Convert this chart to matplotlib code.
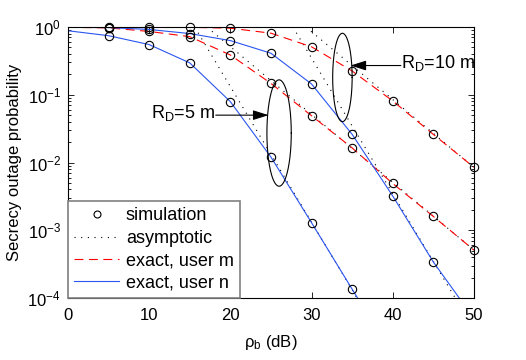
import matplotlib
matplotlib.use('Agg')
import matplotlib.pyplot as plt
import numpy as np

plt.rcParams['font.family'] = ['Liberation Sans', 'DejaVu Sans']
plt.rcParams['mathtext.fontset'] = 'custom'
plt.rcParams['mathtext.rm'] = 'Liberation Sans'
plt.rcParams['mathtext.it'] = 'Liberation Sans:italic'
plt.rcParams['mathtext.default'] = 'regular'

# transmit SNR (dB)
snr_db = [0, 5, 10, 15, 20, 25, 30, 35, 40, 45, 50]

# exact secrecy outage probability
p_m_5 = [0.99, 0.97, 0.86, 0.72, 0.386, 0.147, 0.049, 0.0164, 0.0049, 0.0016, 0.00051]
p_n_5 = [0.88, 0.744, 0.55, 0.295, 0.079, 0.012, 0.00129, 0.000135, 1.4e-5]
p_m_10 = [0.995, 0.995, 0.995, 0.99, 0.96, 0.81, 0.51, 0.224, 0.081, 0.026, 0.0085]
p_n_10 = [0.99, 0.98, 0.92, 0.80, 0.63, 0.41, 0.144, 0.026, 0.0032, 0.00034, 5e-5]

# asymptotic lines (end points)
asym_x_m_5 = [17.1, 50]
asym_m_5 = [1.0, 5.1e-4]
asym_x_n_5 = [15.6, 35.6]
asym_n_5 = [1.0, 1e-4]
asym_x_m_10 = [29.3, 50]
asym_m_10 = [1.0, 0.0085]
asym_x_n_10 = [27.7, 47.7]
asym_n_10 = [1.0, 1e-4]

# ellipses: centre x (dB), centre log10 p, width (dB), height (decades)
ell_5 = (26.0, -1.565, 3.0, 1.57)
ell_10 = (33.8, -0.745, 2.4, 1.305)

red = '#ff0000'
blue = '#2a55f0'
dash = (0, (8, 5))
dots = (0, (1, 5))

fig = plt.figure(figsize=(5.26, 3.6), dpi=100)
ax = fig.add_axes([0.1293, 0.1722, 0.7717, 0.7528])

for xs, ys in [(asym_x_m_5, asym_m_5), (asym_x_n_5, asym_n_5),
               (asym_x_m_10, asym_m_10), (asym_x_n_10, asym_n_10)]:
    ax.plot(xs, ys, color='k', lw=0.8, linestyle=dots)

for p in [p_m_5, p_m_10]:
    ax.plot(snr_db[:len(p)], p, color=red, lw=0.8, linestyle=dash)
for p in [p_n_5, p_n_10]:
    ax.plot(snr_db[:len(p)], p, color=blue, lw=0.8)

for p in [p_m_5, p_n_5, p_m_10, p_n_10]:
    xs = np.array(snr_db[:len(p)])
    ys = np.array(p)
    keep = (xs >= 5) & (ys >= 1e-4)
    ax.plot(xs[keep], ys[keep], 'o', mfc='none', mec='k', ms=6, mew=0.8,
            clip_on=False, zorder=5)

# ellipses drawn in (dB, log10 p) space
t = np.linspace(0, 2 * np.pi, 200)
for cx, cy, w, h in [ell_5, ell_10]:
    ax.plot(cx + w / 2 * np.cos(t), 10 ** (cy + h / 2 * np.sin(t)), color='k', lw=0.8)

arrow = dict(arrowstyle='-|>,head_length=0.95,head_width=0.3', color='k', lw=0.8,
             shrinkA=0, shrinkB=0, mutation_scale=10)
ax.annotate('', xy=(24.7, 0.05), xytext=(18.2, 0.05), arrowprops=arrow)
ax.text(18.1, 0.046, 'R$_D$=5 m', ha='right', va='baseline', fontsize=13)
ax.annotate('', xy=(34.8, 0.27), xytext=(41.0, 0.27), arrowprops=arrow)
ax.text(41.0, 0.246, 'R$_D$=10 m', ha='left', va='baseline', fontsize=13)

ax.set_yscale('log')
ax.set_xlim(0, 50)
ax.set_ylim(1e-4, 1)
ax.set_xticks([0, 10, 20, 30, 40, 50])
ax.tick_params(which='both', direction='in', top=True, right=True, labelsize=12)
ax.tick_params(axis='x', pad=7.5)
ax.tick_params(axis='y', pad=5)
ax.tick_params(which='major', length=4, width=0.6)
ax.tick_params(which='minor', length=2, width=0.6)
for s in ax.spines.values():
    s.set_linewidth(0.8)

ax.set_xlabel('ρ$_b$ (dB)', fontsize=12, labelpad=7)
ax.set_ylabel('Secrecy outage probability', fontsize=12, labelpad=4)

h_sim, = ax.plot([], [], 'o', mfc='none', mec='k', ms=5, mew=0.8)
h_asy, = ax.plot([], [], color='k', lw=0.8, linestyle=dots)
h_m, = ax.plot([], [], color=red, lw=0.8, linestyle=dash)
h_n, = ax.plot([], [], color=blue, lw=0.8)
leg = ax.legend([h_sim, h_asy, h_m, h_n],
                ['simulation', 'asymptotic', 'exact, user m', 'exact, user n'],
                loc='lower left', bbox_to_anchor=(0, 0), borderaxespad=0,
                fancybox=False, edgecolor='#808080', framealpha=1, fontsize=13,
                handlelength=2.5, handletextpad=0.35, labelspacing=0.3,
                borderpad=0.35)
leg.get_frame().set_linewidth(1.2)

fig.savefig('out.png', dpi=100)
